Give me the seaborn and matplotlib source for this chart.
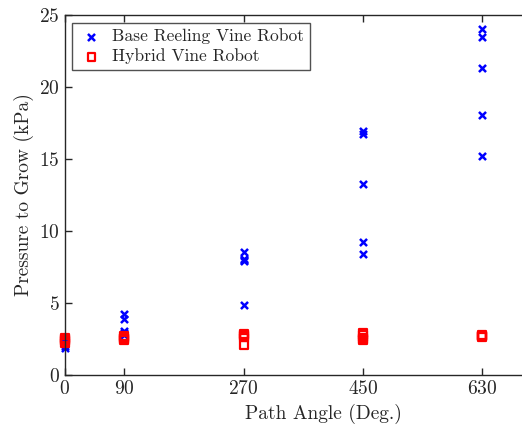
import matplotlib
matplotlib.use("Agg")
import matplotlib.pyplot as plt
import seaborn as sns
import pandas as pd

angles = [0, 90, 270, 450, 630]
base_reeling = {
    0: [1.85, 2.0, 2.15, 2.3, 2.4],
    90: [4.25, 3.9, 3.05, 2.9, 2.8],
    270: [8.55, 8.05, 7.9, 4.85, 8.0],
    450: [16.94, 16.71, 13.25, 9.25, 8.39],
    630: [24.0, 23.45, 21.27, 18.03, 15.19],
}
hybrid = {
    0: [2.25, 2.4, 2.5, 2.35, 2.55],
    90: [2.4, 2.5, 2.6, 2.7, 2.55],
    270: [2.85, 2.7, 2.6, 2.1, 2.75],
    450: [2.9, 2.75, 2.6, 2.45, 2.5],
    630: [2.7, 2.65, 2.75, 2.7, 2.68],
}
series_names = ["Base Reeling Vine Robot", "Hybrid Vine Robot"]
x_ticks = [0, 90, 270, 450, 630]
y_ticks = [0, 5, 10, 15, 20, 25]

rows = []
for name, d in zip(series_names, [base_reeling, hybrid]):
    for a in angles:
        for v in d[a]:
            rows.append({"angle": a, "pressure": v, "robot": name})
df = pd.DataFrame(rows)

sns.set_style("ticks")
plt.rcParams["font.family"] = "serif"
plt.rcParams["font.serif"] = ["cmr10", "DejaVu Serif"]
plt.rcParams["mathtext.fontset"] = "cm"
plt.rcParams["axes.formatter.use_mathtext"] = True

px_per_deg = (482.3 - 64.7) / 630
x_max = 780
fig = plt.figure(figsize=(5.22, 4.33), dpi=100)
ax = fig.add_axes([64.7 / 522, 58 / 433, x_max * px_per_deg / 522, 360.3 / 433])

for name, color, marker in zip(series_names, ["#0000ff", "#ff0000"], ["x", "s"]):
    sub = df[df["robot"] == name]
    if marker == "x":
        sns.scatterplot(data=sub, x="angle", y="pressure", ax=ax, marker="x",
                        color=color, s=26, linewidth=1.8, label=name, clip_on=False)
    else:
        sns.scatterplot(data=sub, x="angle", y="pressure", ax=ax, marker="s",
                        facecolor="none", edgecolor=color, s=32, linewidth=1.6,
                        label=name, clip_on=False)

ax.set_xlim(0, x_max)
ax.set_ylim(0, 25)
ax.set_xticks(x_ticks)
ax.set_yticks(y_ticks)
ax.set_xlabel("Path Angle (Deg.)", fontsize=14)
ax.set_ylabel("Pressure to Grow (kPa)", fontsize=14)
ax.tick_params(direction="in", length=5, width=1, labelsize=14, colors="#262626",
               top=True, right=False)
for s in ["left", "bottom", "top"]:
    ax.spines[s].set_color("#262626")
    ax.spines[s].set_linewidth(1)
ax.spines["right"].set_visible(False)

leg = ax.legend(loc="upper left", bbox_to_anchor=(7.5 / (x_max * px_per_deg), 1 - 8.5 / 360.3),
                borderaxespad=0, fontsize=12.6, frameon=True, fancybox=False,
                edgecolor="#262626", handletextpad=0.4, handlelength=1.6,
                borderpad=0.3, labelspacing=0.25)
leg.get_frame().set_linewidth(1)

fig.savefig("out.png", dpi=100)
